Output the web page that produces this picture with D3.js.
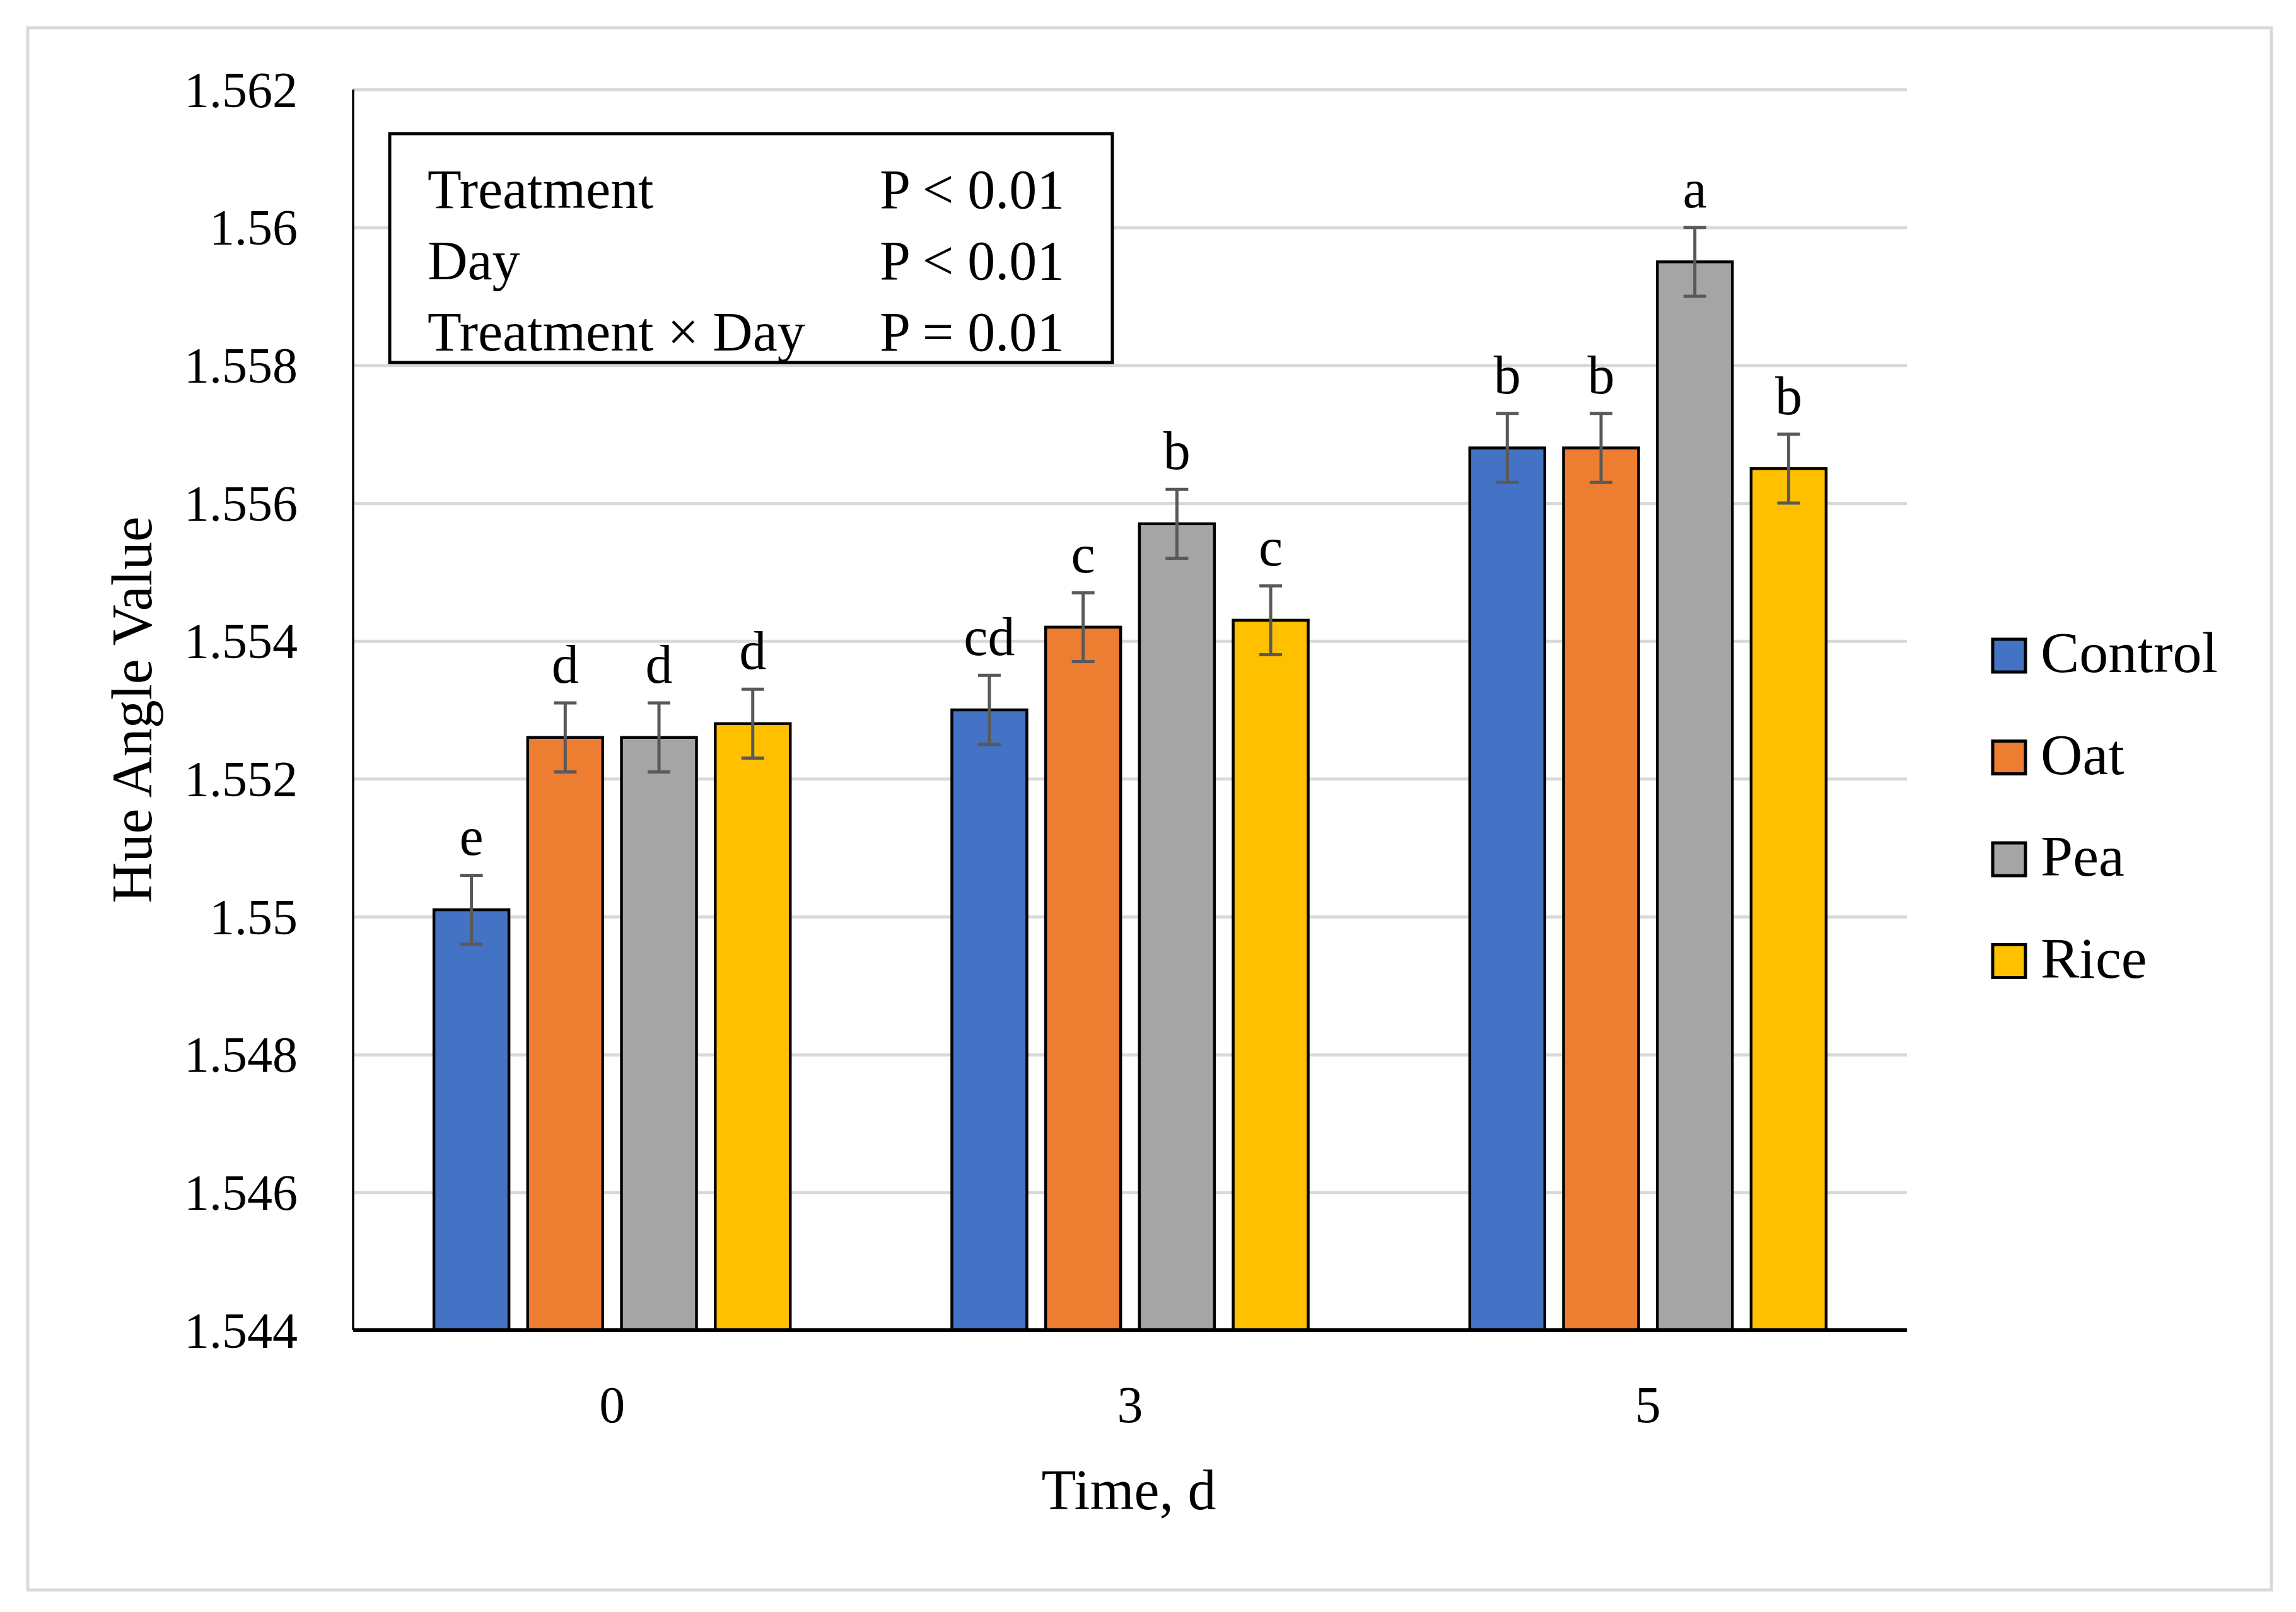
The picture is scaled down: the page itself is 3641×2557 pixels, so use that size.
<!DOCTYPE html>
<html>
<head>
<meta charset="utf-8">
<script src="https://cdn.jsdelivr.net/npm/d3@7"></script>
<style>
  body { margin: 0; background: #fff; }
  svg text { font-family: "Liberation Serif", "DejaVu Serif", serif; fill: #000; }
</style>
</head>
<body>
<div id="chart"></div>
<script>
// data
var days = ["0", "3", "5"];
var series = ["Control", "Oat", "Pea", "Rice"];
var colors = ["#4472C4", "#ED7D31", "#A5A5A5", "#FFC000"];
var control = [1.5501, 1.5530, 1.5568];
var oat     = [1.5526, 1.5542, 1.5568];
var pea     = [1.5526, 1.5557, 1.5595];
var rice    = [1.5528, 1.5543, 1.5565];
var errors  = 0.0005;
var letters = [["e", "cd", "b"], ["d", "c", "b"], ["d", "b", "a"], ["d", "c", "b"]];
var yTicks = [1.544, 1.546, 1.548, 1.55, 1.552, 1.554, 1.556, 1.558, 1.56, 1.562];
var yTickLabels = ["1.544", "1.546", "1.548", "1.55", "1.552", "1.554", "1.556", "1.558", "1.56", "1.562"];
var statTerms = ["Treatment", "Day", "Treatment \u00d7 Day"];
var statP = ["P < 0.01", "P < 0.01", "P = 0.01"];

var W = 3641, H = 2557;
var pLeft = 560, pRight = 3024, pTop = 142, pBottom = 2110;
var values = [control, oat, pea, rice];

var svg = d3.select("#chart").append("svg")
    .attr("width", W).attr("height", H);

// outer frame
svg.append("rect").attr("x", 44).attr("y", 44).attr("width", 3558).attr("height", 2478)
    .style("fill", "none").style("stroke", "#d9d9d9").style("stroke-width", 5);

var y = d3.scaleLinear().domain([1.544, 1.562]).range([pBottom, pTop]);
var x0 = d3.scaleBand().domain(days).range([pLeft, pRight]);
var x1 = d3.scaleBand().domain(series)
    .range([x0.bandwidth() * 0.156, x0.bandwidth() * 0.844]).paddingInner(0.2);

// gridlines
svg.append("g").attr("transform", "translate(" + pLeft + ",0)")
    .call(d3.axisLeft(y).tickValues(yTicks.slice(1)).tickSize(-(pRight - pLeft)).tickFormat(""))
    .call(g => g.select(".domain").remove())
    .call(g => g.selectAll("line").style("stroke", "#d9d9d9").style("stroke-width", 5));

// y tick labels
svg.append("g").attr("transform", "translate(" + (pLeft - 88) + ",0)")
    .call(d3.axisLeft(y).tickValues(yTicks).tickSize(0).tickPadding(0)
        .tickFormat((d, i) => yTickLabels[i]))
    .call(g => g.select(".domain").remove())
    .call(g => g.selectAll("text").style("font-size", "80px").attr("dy", "0.34em")
        .style("font-family", "'Liberation Serif', serif").style("fill", "#000"));

// bars
var groups = svg.append("g").selectAll("g").data(series).enter().append("g");
groups.each(function (s, si) {
    var g = d3.select(this);
    days.forEach(function (d, di) {
        var v = values[si][di];
        var bx = x0(d) + x1(s), bw = x1.bandwidth(), cx = bx + bw / 2;
        g.append("rect")
            .attr("x", bx).attr("y", y(v))
            .attr("width", bw).attr("height", y(1.544) - y(v))
            .style("fill", colors[si]).style("stroke", "#000").style("stroke-width", 4.5);
        // error bar
        g.append("path")
            .attr("d", "M" + cx + "," + y(v + errors) + "V" + y(v - errors)
                + "M" + (cx - 18) + "," + y(v + errors) + "H" + (cx + 18)
                + "M" + (cx - 18) + "," + y(v - errors) + "H" + (cx + 18))
            .style("stroke", "#595959").style("stroke-width", 5).style("fill", "none");
        g.append("text")
            .attr("x", cx).attr("y", y(v + errors) - 32)
            .attr("text-anchor", "middle")
            .style("font-size", "86px")
            .text(letters[si][di]);
    });
});

// axes lines
svg.append("line").attr("x1", pLeft).attr("x2", pLeft).attr("y1", pTop).attr("y2", pBottom)
    .style("stroke", "#000").style("stroke-width", 3.5);
svg.append("line").attr("x1", pLeft).attr("x2", pRight).attr("y1", pBottom).attr("y2", pBottom)
    .style("stroke", "#000").style("stroke-width", 6);

// x tick labels
svg.append("g").selectAll("text").data(days).enter().append("text")
    .attr("x", d => x0(d) + x0.bandwidth() / 2).attr("y", 2256)
    .attr("text-anchor", "middle").style("font-size", "82px")
    .text(d => d);

// axis titles
svg.append("text").attr("x", 1790).attr("y", 2394).attr("text-anchor", "middle")
    .style("font-size", "90px").text("Time, d");
svg.append("text").attr("transform", "translate(240,1126) rotate(-90)")
    .attr("text-anchor", "middle").style("font-size", "90px").text("Hue Angle Value");

// stats box
svg.append("rect").attr("x", 618).attr("y", 212).attr("width", 1146).attr("height", 363)
    .style("fill", "#fff").style("stroke", "#000").style("stroke-width", 5);
var statRows = svg.append("g").selectAll("g").data(statTerms).enter().append("g")
    .attr("transform", (d, i) => "translate(0," + (330 + i * 113) + ")");
statRows.append("text").attr("x", 678).style("font-size", "88px").text(d => d);
statRows.append("text").attr("x", 1395).style("font-size", "88px").text((d, i) => statP[i]);

// legend
var legend = svg.append("g").selectAll("g").data(series).enter().append("g")
    .attr("transform", (d, i) => "translate(3160," + (1014 + i * 161.5) + ")");
legend.append("rect").attr("width", 52).attr("height", 52)
    .style("fill", (d, i) => colors[i]).style("stroke", "#000").style("stroke-width", 5);
legend.append("text").attr("x", 76).attr("y", 52).style("font-size", "92px").text(d => d);
</script>
</body>
</html>
